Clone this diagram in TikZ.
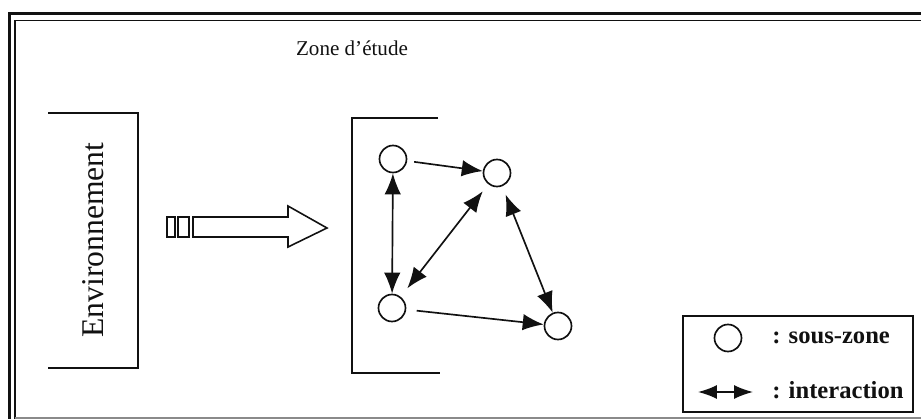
\documentclass[tikz,border=0pt]{standalone}
\usepackage{fontspec}
\setmainfont{Liberation Serif}
\usepackage{tikz}
\usetikzlibrary{positioning,arrows.meta,calc}
\definecolor{ink}     {HTML}{111111}
\definecolor{scanline}{HTML}{8A8A8A}
\tikzset{
  >=Latex,
  % --- nodes
  szone/.style  = {circle, draw=ink, line width=0.95pt, minimum size=0.54cm, inner sep=0pt},
  ttl/.style    = {font=\fontsize{12}{14}\selectfont, text=ink, inner sep=0pt},
  envtxt/.style = {font=\fontsize{18}{20}\selectfont, text=ink, rotate=90, inner sep=0pt},
  legtxt/.style = {font=\fontsize{14}{16}\selectfont\bfseries, text=ink, anchor=west, inner sep=0pt},
  legbox/.style = {draw=ink, line width=0.8pt, minimum width=4.6cm, minimum height=1.92cm},
  % --- lines
  brk/.style    = {draw=ink, line width=1.1pt},
  link/.style   = {-{Latex[length=4.2mm,width=3.3mm]}, line width=0.95pt, draw=ink},
  both/.style   = {{Latex[length=4.2mm,width=3.3mm]}-{Latex[length=4.2mm,width=3.3mm]},
                   line width=0.95pt, draw=ink},
  legarr/.style = {{Latex[length=3.8mm,width=2.8mm]}-{Latex[length=3.8mm,width=2.8mm]},
                   line width=0.9pt, draw=ink},
  bigarr/.style = {draw=ink, line width=0.9pt, fill=white, line join=miter},
}
\begin{document}
\begin{tikzpicture}[x=0.02cm, y=-0.02cm]
  \useasboundingbox (0,0) rectangle (921,419);

  % outer frame (double line, left and top)
  \draw[ink, line width=2.2pt] (9.5,419) -- (9.5,13.5) -- (921,13.5);
  \draw[ink, line width=0.9pt] (15,419) -- (15,20.5) -- (921,20.5);
  \draw[scanline, line width=0.8pt] (15,418) -- (921,418);

  % environment
  \draw[brk] (48,113) -| (138,368) -- (48,368);
  \node[envtxt] (env) at (93,240) {Environnement};

  % block arrow
  \draw[bigarr] (167,217) rectangle (175,237);
  \draw[bigarr] (178,217) rectangle (189,237);
  \draw[bigarr] (193,217) -- (288,217) -- (288,206) -- (327,228)
                -- (288,247) -- (288,237) -- (193,237) -- cycle;

  % study zone
  \node[ttl] (zone) at (352,48) {Zone d'étude};
  \draw[brk] (438,118) -| (352,373) -- (440,373);

  \node[szone] (sa) at (393,159) {};
  \node[szone] (sb) at (497,173) {};
  \node[szone] (sc) at (392,308) {};
  \node[szone] (sd) at (558,326) {};

  \draw[link, shorten <=4pt] (sa) -- (sb);
  \draw[both] (sa) -- (sc);
  \draw[both, shorten <=5pt, shorten >=6pt] (sb) -- (sc);
  \draw[both, shorten <=5pt] (sb) -- (sd);
  \draw[link, shorten <=6pt] (sc) -- (sd);

  % legend
  \node[legbox] (leg) at (798,364) {};
  \node[szone] (lc) at (728,338) {};
  \node[legtxt] (ltzone) at (772,338) {: sous-zone};
  \coordinate (la1) at (698,392);
  \coordinate (la2) at (753,392);
  \draw[legarr] (la1) -- (la2);
  \node[legtxt] (ltinter) at (772,390) {: interaction};
\end{tikzpicture}
\end{document}
